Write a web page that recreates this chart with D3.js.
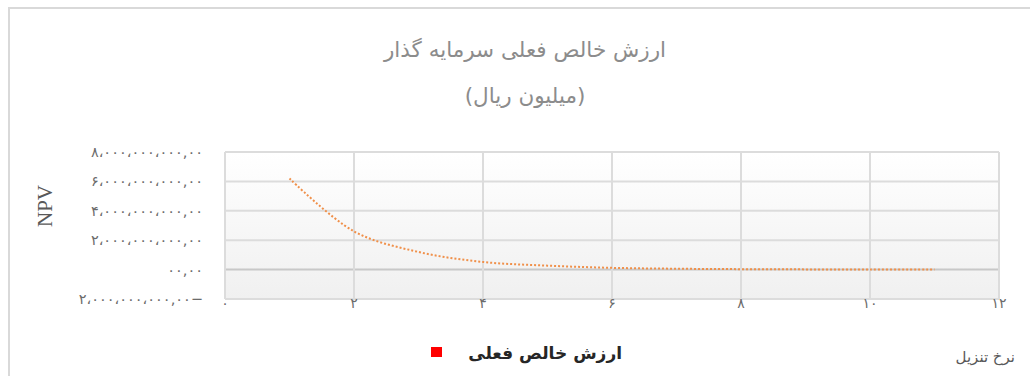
<!DOCTYPE html>
<html>
<head>
<meta charset="utf-8">
<script src="https://cdn.jsdelivr.net/npm/d3@7"></script>
<style>
  body { margin: 0; background: #fff; }
  svg { display: block; font-family: "DejaVu Sans", sans-serif; }
</style>
</head>
<body>
<svg id="chart"></svg>
<script>
// discount rate vs NPV (rial)
var rates = [1, 2, 3, 4, 5, 6, 7, 8, 9, 10, 11]
var npv = [6.2e9, 2.6e9, 1.2e9, 0.52e9, 0.27e9, 0.12e9, 0.06e9, 0.03e9, 0.015e9, 0.008e9, 0.004e9]
var xTicks = [0, 2, 4, 6, 8, 10, 12]
var yTicks = [-2e9, 0, 2e9, 4e9, 6e9, 8e9]
var titleLines = ["ارزش خالص فعلی سرمایه گذار", "(میلیون ریال)"]
var seriesName = "ارزش خالص فعلی"
var xTitle = "نرخ تنزیل"
var yTitle = "NPV"

var width = 1030
var height = 376

var svg = d3.select("#chart")
    .attr("width", width)
    .attr("height", height)

// outer frame (only left and top visible)
svg.append("path")
    .attr("d", "M9,376 V8 H1030")
    .attr("fill", "none")
    .attr("stroke", "#d9d9d9")
    .attr("stroke-width", 2)

var x = d3.scaleLinear().domain([0, 12]).range([225, 999])
var y = d3.scaleLinear().domain([-2e9, 8e9]).range([299, 152])

var grad = svg.append("defs").append("linearGradient")
    .attr("id", "bg").attr("x1", 0).attr("y1", 0).attr("x2", 0).attr("y2", 1)
grad.append("stop").attr("offset", "0%").attr("stop-color", "#ffffff")
grad.append("stop").attr("offset", "100%").attr("stop-color", "#f0f0f0")

svg.append("rect")
    .attr("x", x(0)).attr("y", y(8e9))
    .attr("width", x(12) - x(0)).attr("height", y(-2e9) - y(8e9))
    .attr("fill", "url(#bg)")

// gridlines
svg.append("g").selectAll("line")
    .data(yTicks)
    .enter()
    .append("line")
    .attr("x1", x(0)).attr("x2", x(12))
    .attr("y1", d => y(d)).attr("y2", d => y(d))
    .attr("stroke", d => d === 0 ? "#c8c8c8" : "#dcdcdc")
    .attr("stroke-width", 2)

svg.append("g").selectAll("line")
    .data(xTicks)
    .enter()
    .append("line")
    .attr("x1", d => x(d)).attr("x2", d => x(d))
    .attr("y1", y(8e9)).attr("y2", y(-2e9))
    .attr("stroke", "#dcdcdc")
    .attr("stroke-width", 2)

var fa = "۰۱۲۳۴۵۶۷۸۹"
function toFa(s) {
  return String(s).replace(/[0-9]/g, c => fa[+c])
}

function yLabel(v) {
  if (v === 0) return "۰۰,۰۰"
  var s = d3.format(",")(Math.abs(v)).replace(/,/g, "،") + ",00"
  s = toFa(s)
  return v < 0 ? s + "−" : s
}

svg.append("g").selectAll("text")
    .data(yTicks)
    .enter()
    .append("text")
    .attr("x", 203)
    .attr("y", d => y(d))
    .attr("dy", "0.35em")
    .attr("text-anchor", "end")
    .attr("direction", "ltr")
    .attr("unicode-bidi", "bidi-override")
    .attr("font-size", 14.5)
    .attr("fill", "#6b6b6b")
    .text(d => yLabel(d))

svg.append("g").selectAll("text")
    .data(xTicks)
    .enter()
    .append("text")
    .attr("x", d => x(d))
    .attr("y", 308)
    .attr("text-anchor", "middle")
    .attr("font-size", 14)
    .attr("fill", "#6b6b6b")
    .text(d => toFa(d))

// series
var line = d3.line()
    .x((d, i) => x(rates[i]))
    .y(d => y(d))
    .curve(d3.curveCatmullRom)

svg.append("path")
    .datum(npv)
    .attr("d", line)
    .attr("fill", "none")
    .attr("stroke", "#f0904a")
    .attr("stroke-width", 2)
    .attr("stroke-dasharray", "2,2")

// titles
svg.append("g").selectAll("text")
    .data(titleLines)
    .enter()
    .append("text")
    .attr("x", 525)
    .attr("y", (d, i) => 57 + i * 46)
    .attr("text-anchor", "middle")
    .attr("font-size", 21.5)
    .attr("fill", "#8c8c8c")
    .text(d => d)

svg.append("text")
    .attr("transform", "translate(52,206) rotate(-90)")
    .attr("text-anchor", "middle")
    .attr("font-family", "Liberation Serif, serif")
    .attr("font-size", 21)
    .attr("fill", "#595959")
    .text(yTitle)

svg.append("text")
    .attr("x", 1015)
    .attr("y", 362)
    .attr("text-anchor", "end")
    .attr("font-size", 15)
    .attr("fill", "#595959")
    .text(xTitle)

// legend
svg.append("rect")
    .attr("x", 431).attr("y", 347)
    .attr("width", 11).attr("height", 10)
    .attr("fill", "#ff0000")

svg.append("text")
    .attr("x", 622)
    .attr("y", 359)
    .attr("text-anchor", "end")
    .attr("font-size", 17)
    .attr("font-weight", "bold")
    .attr("fill", "#262626")
    .text(seriesName)
</script>
</body>
</html>
